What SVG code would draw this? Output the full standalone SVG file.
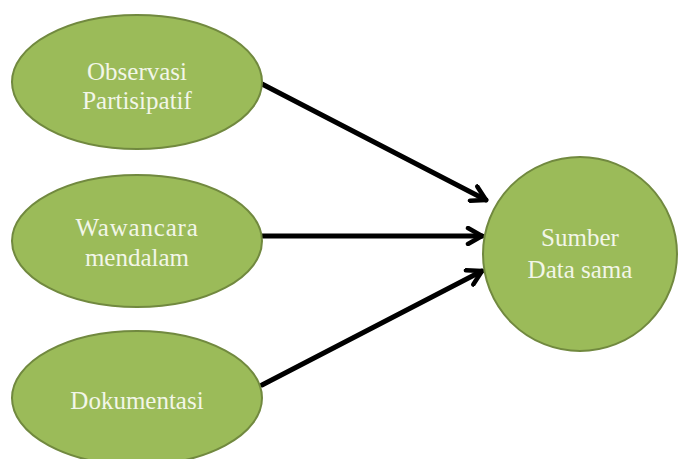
<svg xmlns="http://www.w3.org/2000/svg" width="678" height="459" viewBox="0 0 678 459">
<style>
.node{fill:#9bbb59;stroke:#71893f;stroke-width:2}
.lbl{font-family:"Liberation Serif","Times New Roman",serif;font-size:25px;fill:#f2f6e8;text-anchor:middle}
.edge{stroke:#000;stroke-width:5;fill:none;stroke-linecap:round}
</style>
<defs>
<marker id="arr" viewBox="0 0 20 20" refX="17" refY="10" markerWidth="20" markerHeight="20" markerUnits="userSpaceOnUse" orient="auto">
<polyline points="3,2 17,10 3,18" fill="none" stroke="#000" stroke-width="4.5" stroke-linecap="round" stroke-linejoin="round"/>
</marker>
</defs>
<rect width="678" height="459" fill="#fff"/>
<g id="connectors">
<line class="edge" x1="262" y1="84" x2="486" y2="200" marker-end="url(#arr)"/>
<line class="edge" x1="262" y1="236" x2="482" y2="236" marker-end="url(#arr)"/>
<line class="edge" x1="262" y1="385" x2="482" y2="271" marker-end="url(#arr)"/>
</g>
<g id="n1">
<ellipse class="node" cx="137" cy="82" rx="125" ry="67"/>
<text class="lbl" x="137" y="80">Observasi</text>
<text class="lbl" x="137" y="109">Partisipatif</text>
</g>
<g id="n2">
<ellipse class="node" cx="137" cy="241" rx="125" ry="66"/>
<text class="lbl" x="137" y="236" letter-spacing="0.8">Wawancara</text>
<text class="lbl" x="137" y="266">mendalam</text>
</g>
<g id="n3">
<ellipse class="node" cx="137" cy="398" rx="125" ry="67"/>
<text class="lbl" x="137" y="409">Dokumentasi</text>
</g>
<g id="n4">
<circle class="node" cx="580" cy="254" r="97"/>
<text class="lbl" x="580" y="246">Sumber</text>
<text class="lbl" x="580" y="278">Data sama</text>
</g>
</svg>
